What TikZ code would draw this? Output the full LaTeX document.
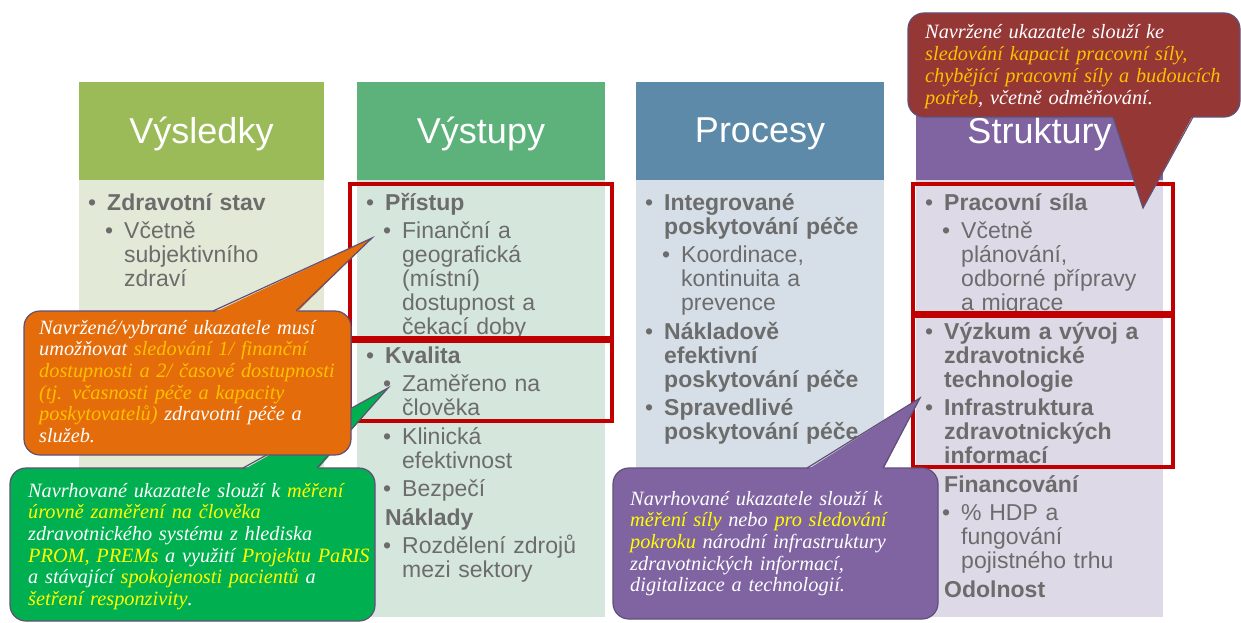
\documentclass[tikz,border=0pt]{standalone}
\usepackage{fontspec}
\setmainfont{Liberation Sans}
\newfontfamily\calloutfont{Liberation Serif}

% column colours
\definecolor{headA}{RGB}{155,187,89}
\definecolor{bodyA}{RGB}{226,233,215}
\definecolor{headB}{RGB}{92,178,122}
\definecolor{bodyB}{RGB}{213,230,220}
\definecolor{headC}{RGB}{93,138,168}
\definecolor{bodyC}{RGB}{214,223,231}
\definecolor{headD}{RGB}{128,100,162}
\definecolor{bodyD}{RGB}{221,217,230}
\definecolor{bodytext}{RGB}{108,108,108}
\definecolor{frame}{RGB}{192,0,0}
% callout colours
\definecolor{cOrange}{RGB}{228,108,10}
\definecolor{cGreen}{RGB}{0,176,80}
\definecolor{cPurple}{RGB}{128,100,162}
\definecolor{cRed}{RGB}{149,55,53}
\definecolor{cEdge}{RGB}{96,80,118}
\definecolor{hlGold}{RGB}{255,192,0}
\definecolor{hlYellow}{RGB}{255,255,0}

% bullet lines: level one / level two, and their continuation lines
\newcommand{\Lone}[1]{\makebox[28pt][l]{\hspace*{9pt}\textbullet}#1}
\newcommand{\Ltwo}[1]{\hspace*{26pt}\makebox[19pt][l]{\textbullet}#1}
\newcommand{\Cone}{\hspace*{28pt}}
\newcommand{\Ctwo}{\hspace*{45pt}}
\newcommand{\gold}[1]{\textcolor{hlGold}{#1}}
\newcommand{\yel}[1]{\textcolor{hlYellow}{#1}}

\begin{document}
\begin{tikzpicture}[x=1pt,y=-1pt,
  headtext/.style={text=white,inner sep=0pt,font=\fontsize{36}{40}\selectfont},
  coltext/.style={text=bodytext,inner sep=0pt,anchor=base west,text width=300pt,
    align=left,font=\fontsize{23}{24}\selectfont},
  redframe/.style={draw=frame,line width=4pt},
  cbox/.style={draw=cEdge,line width=1.2pt,rounded corners=16pt},
  cline/.style={draw=cEdge,line width=1.2pt,line join=miter},
  ctext/.style={text=white,inner sep=0pt,anchor=base west,text width=380pt,
    align=left,font=\calloutfont\itshape\fontsize{20.3}{21.7}\selectfont}]
\useasboundingbox (0,0) rectangle (1241,623);

% ---- four columns: header and body
\fill[bodyA] (79,180) rectangle (324,617);
\fill[headA] (79,82) rectangle (324,180);
\fill[bodyB] (357,180) rectangle (605,617);
\fill[headB] (357,82) rectangle (605,180);
\fill[bodyC] (636,180) rectangle (884,617);
\fill[headC] (636,82) rectangle (884,180);
\fill[bodyD] (916,180) rectangle (1163,617);
\fill[headD] (916,82) rectangle (1163,180);

\node[headtext] (hA) at (201.5,134) {Výsledky};
\node[headtext] (hB) at (481,134) {Výstupy};
\node[headtext] (hC) at (760,134) {Procesy};
\node[headtext] (hD) at (1039.5,134) {Struktury};

% ---- column contents
\node[coltext] (tA) at (79,210) {%
\Lone{\textbf{Zdravotní stav}}\\[4.5pt]
\Ltwo{Včetně}\\
\Ctwo subjektivního\\
\Ctwo zdraví};

\node[coltext] (tB) at (357,210) {%
\Lone{\textbf{Přístup}}\\[4.5pt]
\Ltwo{Finanční a}\\
\Ctwo geografická\\
\Ctwo (místní)\\
\Ctwo dostupnost a\\
\Ctwo čekací doby\\[4.5pt]
\Lone{\textbf{Kvalita}}\\[4.5pt]
\Ltwo{Zaměřeno na}\\
\Ctwo člověka\\[4.5pt]
\Ltwo{Klinická}\\
\Ctwo efektivnost\\[4.5pt]
\Ltwo{Bezpečí}\\[4.5pt]
\Cone\textbf{Náklady}\\[4.5pt]
\Ltwo{Rozdělení zdrojů}\\
\Ctwo mezi sektory};

\node[coltext] (tC) at (636,210) {%
\Lone{\textbf{Integrované}}\\
\Cone\textbf{poskytování péče}\\[4.5pt]
\Ltwo{Koordinace,}\\
\Ctwo kontinuita a\\
\Ctwo prevence\\[4.5pt]
\Lone{\textbf{Nákladově}}\\
\Cone\textbf{efektivní}\\
\Cone\textbf{poskytování péče}\\[4.5pt]
\Lone{\textbf{Spravedlivé}}\\
\Cone\textbf{poskytování péče}};

\node[coltext] (tD) at (916,210) {%
\Lone{\textbf{Pracovní síla}}\\[4.5pt]
\Ltwo{Včetně}\\
\Ctwo plánování,\\
\Ctwo odborné přípravy\\
\Ctwo a migrace\\[4.5pt]
\Lone{\textbf{Výzkum a vývoj a}}\\
\Cone\textbf{zdravotnické}\\
\Cone\textbf{technologie}\\[4.5pt]
\Lone{\textbf{Infrastruktura}}\\
\Cone\textbf{zdravotnických}\\
\Cone\textbf{informací}\\[4.5pt]
\Cone\textbf{Financování}\\[4.5pt]
\Ltwo{\% HDP a}\\
\Ctwo fungování\\
\Ctwo pojistného trhu\\[4.5pt]
\Cone\textbf{Odolnost}};

% ---- highlighted groups
\draw[redframe] (350,184) rectangle (612,338);
\draw[redframe] (350,341) rectangle (612,421);
\draw[redframe] (913,184) rectangle (1173,313);
\draw[redframe] (913,316) rectangle (1173,467);

% ---- callout on the workforce group
\coordinate (tipR) at (1143,208);
\filldraw[cbox,fill=cRed] (908,13) rectangle (1240,117);
\fill[cRed] (1113,115) -- (tipR) -- (1193,115) -- cycle;
\draw[cline] (1113,117) -- (tipR) -- (1193,117);
\node[ctext] (cR) at (925,39) {%
Navržené ukazatele slouží ke\\
\gold{sledování kapacit pracovní síly,}\\
\gold{chybějící pracovní síly a budoucích}\\
\gold{potřeb}, včetně odměňování.};

% ---- callout on person-centred quality
\coordinate (tipG) at (388,388);
\filldraw[cbox,fill=cGreen] (10,468) rectangle (375,621);
\fill[cGreen] (243,470) -- (tipG) -- (317,470) -- cycle;
\draw[cline] (243,468) -- (tipG) -- (317,468);
\node[ctext] (cG) at (28,497) {%
Navrhované ukazatele slouží k \yel{měření}\\
\yel{úrovně zaměření na člověka}\\
zdravotnického systému z hlediska\\
\yel{PROM, PREMs} a využití \yel{Projektu PaRIS}\\
a stávající \yel{spokojenosti pacientů} a\\
\yel{šetření responzivity}.};

% ---- callout on access
\coordinate (tipO) at (372,238);
\filldraw[cbox,fill=cOrange] (24,311) rectangle (351,455);
\fill[cOrange] (213,313) -- (tipO) -- (296,313) -- cycle;
\draw[cline] (213,311) -- (tipO) -- (296,311);
\node[ctext] (cO) at (39,334) {%
Navržené/vybrané ukazatele musí\\
umožňovat \gold{sledování 1/ finanční}\\
\gold{dostupnosti a 2/ časové dostupnosti}\\
\gold{(tj. včasnosti péče a kapacity}\\
\gold{poskytovatelů)} zdravotní péče a\\
služeb.};

% ---- callout on health information infrastructure
\coordinate (tipP) at (920,398);
\filldraw[cbox,fill=cPurple] (613,468) rectangle (938,619);
\fill[cPurple] (807,470) -- (tipP) -- (883,470) -- cycle;
\draw[cline] (807,468) -- (tipP) -- (883,468);
\node[ctext] (cP) at (630,505) {%
Navrhované ukazatele slouží k\\
\yel{měření síly} nebo \yel{pro sledování}\\
\yel{pokroku} národní infrastruktury\\
zdravotnických informací,\\
digitalizace a technologií.};
\end{tikzpicture}
\end{document}
